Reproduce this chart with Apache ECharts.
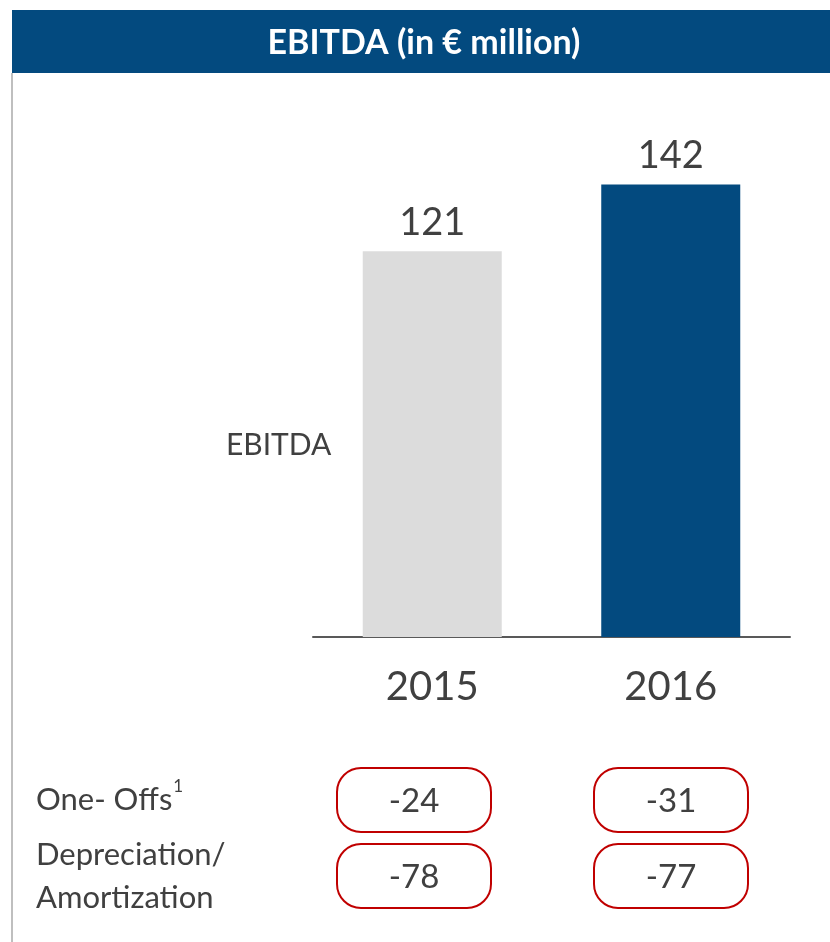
<!DOCTYPE html>
<html>
<head>
<meta charset="utf-8">
<script src="https://cdn.jsdelivr.net/npm/echarts@6/dist/echarts.min.js"></script>
<style>html,body{margin:0;padding:0;background:#fff}#c{width:830px;height:942px}</style>
</head>
<body>
<div id="c"></div>
<script>
const title = 'EBITDA (in € million)';
const years = ['2015', '2016'];
const ebitda = [121, 142];
const barColors = ['#DCDCDC', '#034A7F'];
const rowLabels = ['One- Offs', 'Depreciation/\nAmortization'];
const oneOffs = [-24, -31];
const depAmort = [-78, -77];
const seriesLabel = 'EBITDA';

const FONT = 'Lato, "Open Sans", sans-serif';
const TXT = '#404040';

const boxData = [];
[oneOffs, depAmort].forEach((arr, r) => arr.forEach((v, c) => boxData.push([c, r, v])));

const chart = echarts.init(document.getElementById('c'));
chart.setOption({
  animation: false,
  textStyle: { fontFamily: FONT },
  grid: [
    { left: 313, width: 477, top: 127, height: 510 },
    { left: 285.5, width: 514, top: 762, height: 152 }
  ],
  xAxis: [
    {
      type: 'category', data: years, gridIndex: 0,
      axisLine: { lineStyle: { color: '#595959', width: 2 } },
      axisTick: { show: false },
      axisLabel: { fontSize: 40, color: TXT, margin: 30, fontFamily: FONT }
    },
    { type: 'category', data: years, gridIndex: 1, show: false }
  ],
  yAxis: [
    { type: 'value', min: 0, max: 160, gridIndex: 0, show: false },
    {
      type: 'category', data: rowLabels, gridIndex: 1, inverse: true,
      axisLine: { show: false }, axisTick: { show: false }, splitLine: { show: false },
      axisLabel: {
        align: 'left', margin: 249.5, color: TXT, fontSize: 31, lineHeight: 43, fontFamily: FONT,
        formatter: (v, i) => i === 0 ? '{a|' + v + '}{s|1}' : v,
        rich: {
          a: { fontSize: 31, color: TXT, fontFamily: FONT },
          s: { fontSize: 17, color: TXT, verticalAlign: 'top', padding: [0, 0, 6, 1], fontFamily: FONT }
        }
      }
    }
  ],
  graphic: [
    { type: 'rect', shape: { x: 12, y: 10, width: 818, height: 63 }, style: { fill: '#034A7F' }, silent: true },
    { type: 'text', x: 424, y: 43, style: { text: title, fill: '#fff', font: 'bold 34px ' + FONT, align: 'center', verticalAlign: 'middle' } },
    { type: 'line', shape: { x1: 12, y1: 73, x2: 12, y2: 942 }, style: { stroke: '#BFBFBF', lineWidth: 2 } },
    { type: 'text', x: 226, y: 445, style: { text: seriesLabel, fill: TXT, font: '30px ' + FONT, align: 'left', verticalAlign: 'middle' } }
  ],
  series: [
    {
      type: 'bar', xAxisIndex: 0, yAxisIndex: 0, barWidth: 139,
      data: ebitda.map((v, i) => ({ value: v, itemStyle: { color: barColors[i] } })),
      label: { show: true, position: 'top', distance: 10, fontSize: 38, color: TXT, fontFamily: FONT }
    },
    {
      type: 'custom', xAxisIndex: 1, yAxisIndex: 1,
      data: boxData,
      renderItem: (params, api) => {
        const p = api.coord([api.value(0), api.value(1)]);
        const w = 154, h = 64;
        return {
          type: 'group',
          children: [
            { type: 'rect', shape: { x: p[0] - w / 2, y: p[1] - h / 2, width: w, height: h, r: 24 },
              style: { fill: '#fff', stroke: '#C00000', lineWidth: 2 } },
            { type: 'text', x: p[0], y: p[1] + 1,
              style: { text: String(api.value(2)), fill: TXT, font: '33px ' + FONT, align: 'center', verticalAlign: 'middle' } }
          ]
        };
      }
    }
  ]
});
</script>
</body>
</html>
